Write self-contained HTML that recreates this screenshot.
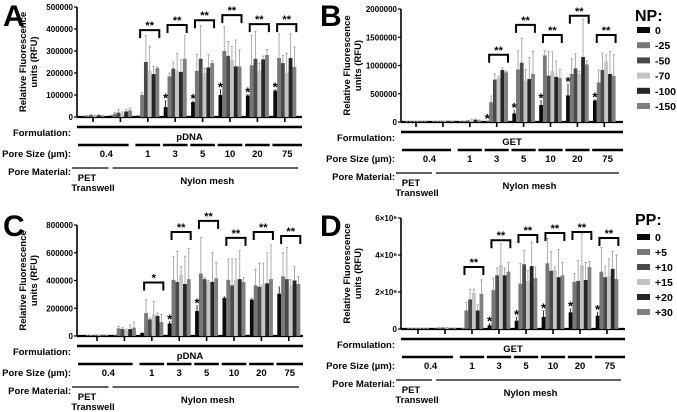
<!DOCTYPE html>
<html><head><meta charset="utf-8"><style>
html,body{margin:0;padding:0;background:#fff;}
svg{display:block;font-family:"Liberation Sans",Arial,sans-serif;font-weight:bold;}
</style></head><body>
<svg id="fig" width="677" height="412" viewBox="0 0 677 412" xmlns="http://www.w3.org/2000/svg"></svg>
<script>
// ---------- data ----------
const groups = ["0.4a","0.4b","1","3","5","10","20","75"];
const npSeries = ["0","-25","-50","-70","-100","-150"];
const ppSeries = ["0","+5","+10","+15","+20","+30"];
const seriesColors = ["#0a0a0a","#777777","#4a4a4a","#c4c4c4","#262626","#808080"];

const aVals = [[3000,5000,8000,5000,8000,6000],[5000,15000,20000,15000,25000,30000],[5000,100000,250000,210000,195000,222000],[45000,185000,220000,210000,205000,265000],[68000,210000,265000,200000,225000,245000],[100000,300000,278000,260000,230000,230000],[98000,235000,265000,210000,262000,282000],[120000,268000,245000,200000,268000,228000]];
const aErr = [[2000,2000,3000,2000,2000,2000],[3000,5000,15000,8000,10000,10000],[2000,10000,120000,110000,35000,5000],[30000,15000,30000,80000,55000,105000],[5000,75000,150000,20000,60000,10000],[25000,110000,65000,60000,120000,75000],[5000,135000,125000,35000,15000,25000],[5000,110000,35000,90000,110000,90000]];
const aSig = [0,0,395000,418000,440000,463000,422000,422000];
const aSigLabel = ["","","**","**","**","**","**","**"];
const aStar = [0,0,0,1,1,1,1,1];
const aTicks = ["0","100000","200000","300000","400000","500000"];

const bVals = [[5000,5000,5000,5000,5000,5000],[5000,5000,10000,10000,15000,10000],[5000,10000,20000,30000,40000,25000],[10000,350000,750000,780000,920000,880000],[150000,930000,1050000,730000,760000,850000],[300000,1180000,820000,900000,800000,780000],[470000,850000,950000,850000,1150000,1020000],[380000,700000,920000,1070000,850000,820000]];
const bErr = [[2000,2000,2000,2000,2000,2000],[2000,3000,5000,5000,5000,5000],[2000,5000,10000,15000,15000,10000],[5000,110000,100000,30000,40000,20000],[60000,330000,430000,200000,380000,400000],[80000,80000,430000,340000,280000,150000],[200000,270000,260000,50000,670000,60000],[20000,220000,300000,120000,400000,370000]];
const bSig = [0,0,0,1190000,1720000,1540000,1880000,1540000];
const bSigLabel = ["","","","**","**","**","**","**"];
const bStar = [0,0,0,1,1,1,1,1];
const bTicks = ["0","500000","1000000","1500000","2000000"];

const cVals = [[3000,3000,5000,5000,5000,5000],[3000,55000,50000,40000,50000,60000],[22000,165000,120000,155000,145000,100000],[90000,405000,390000,440000,375000,410000],[180000,450000,410000,390000,390000,415000],[275000,405000,365000,405000,410000,390000],[262000,365000,355000,375000,380000,410000],[305000,430000,410000,365000,400000,375000]];
const cErr = [[2000,2000,2000,2000,2000,2000],[3000,15000,10000,10000,30000,40000],[3000,95000,10000,95000,20000,55000],[15000,170000,220000,60000,200000,220000],[40000,260000,10000,10000,210000,115000],[10000,150000,190000,150000,205000,30000],[10000,115000,170000,150000,220000,245000],[50000,170000,230000,40000,100000,55000]];
const cSig = [0,0,386000,750000,830000,707000,750000,721000];
const cSigLabel = ["","","*","**","**","**","**","**"];
const cStar = [0,0,0,1,1,0,0,0];
const cTicks = ["0","200000","400000","600000","800000"];

const dVals = [[0.02,0.02,0.02,0.02,0.02,0.02],[0.03,0.05,0.06,0.05,0.04,0.04],[0.02,1.0,1.6,1.95,1.0,1.9],[0.2,2.1,2.9,3.45,2.9,3.1],[0.45,2.45,3.5,2.6,3.4,2.75],[0.65,3.55,3.15,3.2,2.8,2.9],[0.9,2.55,2.6,3.45,2.65,3.35],[0.72,3.1,2.8,2.85,3.25,2.7]];
const dErr = [[0.01,0.01,0.01,0.01,0.01,0.01],[0.02,0.03,0.03,0.03,0.02,0.02],[0.01,0.45,0.55,0.2,0.3,0.75],[0.1,0.65,0.4,1.15,0.4,0.5],[0.2,1.1,0.75,0.55,1.3,0.6],[0.35,1.35,1.05,0.15,1.5,0.7],[0.2,0.45,1.1,1.7,0.95,0.3],[0.2,1.3,0.6,0.95,0.95,1.3]];
const dSig = [0,0,3.35,4.8,5.08,5.19,5.24,4.92];
const dSigLabel = ["","","**","**","**","**","**","**"];
const dStar = [0,0,0,1,1,1,1,1];
const dTicks = ["0","2×10⁶","4×10⁶","6×10⁶"];

const poreLabels = ["0.4","1","3","5","10","20","75"];

// ---------- drawing ----------
const NS="http://www.w3.org/2000/svg";
const svg=document.getElementById('fig');
function el(tag,attrs,parent){const e=document.createElementNS(NS,tag);for(const k in attrs)e.setAttribute(k,attrs[k]);(parent||svg).appendChild(e);return e;}
function txt(s,x,y,size,anchor,parent){const t=el('text',{x:x,y:y,'font-size':size,'text-anchor':anchor||'start',fill:'#000'},parent);t.textContent=s;return t;}

function panel(p){
  const g=el('g',{});
  
  
  const yS=v=>p.y0-v/p.max*p.h;
  const xC=i=>p.tx0+i*p.step;
  const bw=p.step*0.14;
  const L=txt(p.letter,p.lx,p.ly,30,'start',g);
  
  
  el('line',{x1:p.ax,y1:p.y0,x2:p.ax,y2:p.y0-p.h,stroke:'#000','stroke-width':1.6},g);
  el('line',{x1:p.ax,y1:p.y0,x2:p.ax2,y2:p.y0,stroke:'#000','stroke-width':2.2},g);
  p.ticks.forEach((t,i)=>{
    const v=p.max*i/(p.ticks.length-1);const y=yS(v);
    el('line',{x1:p.ax-3,y1:y,x2:p.ax,y2:y,stroke:'#000','stroke-width':1.2},g);
    const tl=txt(t,p.ax-4,y+3,8,'end',g);
    
    
  });
  const yl=el('text',{transform:`translate(${p.ax-47},${p.y0-p.h/2}) rotate(-90)`,'font-size':9.5,'text-anchor':'middle'},g);
  
  
  const ts1=el('tspan',{x:0,dy:-4},yl);ts1.textContent='Relative Fluorescence';
  const ts2=el('tspan',{x:0,dy:11},yl);ts2.textContent='units (RFU)';
  p.vals.forEach((grp,gi)=>{
    const c=xC(gi);
    el('line',{x1:c,y1:p.y0,x2:c,y2:p.y0+5,stroke:'#000','stroke-width':1.6},g);
    grp.forEach((v,si)=>{
      const x=c-3*bw+si*bw;
      const r=el('rect',{x:x,y:yS(v),width:bw,height:Math.max(0,p.y0-yS(v)),fill:seriesColors[si]},g);
      
      
      const e=p.err[gi][si];
      const ye=yS(v+e);
      el('line',{x1:x+bw/2,y1:yS(v),x2:x+bw/2,y2:ye,stroke:si==0?'#000':'#999','stroke-width':0.8},g);
      el('line',{x1:x+bw/2-1.2,y1:ye,x2:x+bw/2+1.2,y2:ye,stroke:'#999','stroke-width':0.8},g);
    });
    if(p.star[gi]){
      const s=txt('*',c-2.5*bw,yS(grp[0]+p.err[gi][0])+2,13,'middle',g);
      
      
    }
    if(p.sigLabel[gi]){
      const top=yS(p.sig[gi]);const x1=c-2*bw,x2=c+3*bw;
      const b=el('path',{d:`M${x1},${top+8}V${top}H${x2}V${top+8}`,fill:'none',stroke:'#000','stroke-width':2},g);
      
      
      txt(p.sigLabel[gi],(x1+x2)/2,top-1,11,'middle',g);
    }
  });
  const lx=p.ax-6;
  const f=p.y0+10, ps=p.y0+28, pm=p.y0+51;
  el('line',{x1:p.ax,y1:f,x2:p.ax2,y2:f,stroke:'#000','stroke-width':2.4},g);
  txt('Formulation:',lx,f+9,9.5,'end',g);
  txt(p.form,(p.ax+p.ax2)/2,f+13,9.5,'middle',g);
  const segs=[[p.ax+1,xC(1)+p.step*0.3]];
  for(let i=2;i<8;i++)segs.push([xC(i)-p.step*0.45,xC(i)+p.step*0.45]);
  segs[segs.length-1][1]=p.ax2;
  segs.forEach((s,i)=>{
    el('line',{x1:s[0],y1:ps,x2:s[1],y2:ps,stroke:'#000','stroke-width':2.4},g);
    const pl=txt(poreLabels[i],(s[0]+s[1])/2+(i==0?3:0),ps+12,9.5,'middle',g);
    
    
  });
  txt('Pore Size (µm):',lx,ps+12,9.5,'end',g);
  el('line',{x1:p.ax-5,y1:pm,x2:p.ax+p.step*1.15,y2:pm,stroke:'#000','stroke-width':1.2},g);
  el('line',{x1:p.ax+p.step*1.3,y1:pm,x2:p.ax2-4,y2:pm,stroke:'#000','stroke-width':1.2},g);
  txt('Pore Material:',lx,pm+7,9.5,'end',g);
  txt('PET',p.ax+10,pm+13,9.5,'middle',g);
  txt('Transwell',p.ax+16,pm+23,9.5,'middle',g);
  txt('Nylon mesh',(p.ax+p.step*1.3+p.ax2)/2,pm+16,9.5,'middle',g);
}

panel({id:'a',letter:'A',lx:3,ly:26,ax:77,ax2:302,y0:117,h:110,max:500000,tx0:93,step:27.4,vals:aVals,err:aErr,sig:aSig,sigLabel:aSigLabel,star:aStar,ticks:aTicks,form:'pDNA'});
panel({id:'b',letter:'B',lx:320,ly:26,ax:401,ax2:623,y0:122,h:113,max:2000000,tx0:416,step:26.9,vals:bVals,err:bErr,sig:bSig,sigLabel:bSigLabel,star:bStar,ticks:bTicks,form:'GET'});
panel({id:'c',letter:'C',lx:3,ly:236,ax:77,ax2:303,y0:336,h:111,max:800000,tx0:97,step:27.4,vals:cVals,err:cErr,sig:cSig,sigLabel:cSigLabel,star:cStar,ticks:cTicks,form:'pDNA'});
panel({id:'d',letter:'D',lx:320,ly:236,ax:401,ax2:625,y0:329,h:111,max:6,tx0:418,step:27,vals:dVals,err:dErr,sig:dSig,sigLabel:dSigLabel,star:dStar,ticks:dTicks,form:'GET'});

function legend(title,names,x,ty,y0,dy){
  const g=el('g',{});
  
  
  txt(title,x-2,ty,16,'start',g);
  names.forEach((n,i)=>{
    const y=y0+i*dy;
    const r=el('rect',{x:x,y:y-3,width:13,height:6,fill:seriesColors[i]},g);
    
    
    const t=txt(n,x+18,y+4,10.5,'start',g);
    
    
  });
}
legend('NP:',npSeries,637,21,30,15.2);
legend('PP:',ppSeries,637,225,237,15);
</script>
</body></html>
